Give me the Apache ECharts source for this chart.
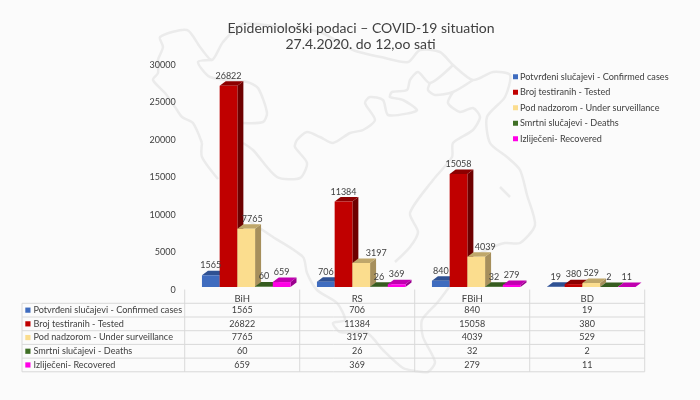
<!DOCTYPE html>
<html>
<head>
<meta charset="utf-8" />
<title>COVID-19 situation</title>
<style type="text/css">
  html, body {height: 100%; margin: 0; padding: 0; background: #fbfbfb;}
  #main {width: 700px; height: 400px;}
</style>
<script type="text/javascript" src="https://cdn.jsdelivr.net/npm/echarts@6/dist/echarts.min.js"></script>
</head>
<body>
<div id="main"></div>
<script type="text/javascript">
var categories = ['BiH', 'RS', 'FBiH', 'BD'];
var seriesNames = [
  'Potvrđeni slučajevi - Confirmed cases',
  'Broj testiranih - Tested',
  'Pod nadzorom - Under surveillance',
  'Smrtni slučajevi - Deaths',
  'Izliječeni- Recovered'
];
var confirmed = [1565, 706, 840, 19];
var tested = [26822, 11384, 15058, 380];
var surveillance = [7765, 3197, 4039, 529];
var deaths = [60, 26, 32, 2];
var recovered = [659, 369, 279, 11];
var seriesValues = [confirmed, tested, surveillance, deaths, recovered];

// front, top, side colour of each bar
var barColors = [
  ['#3f6cbf', '#2f5193', '#2c4c8a'],
  ['#c00000', '#8c0000', '#6e0000'],
  ['#fbdd8e', '#bfa76a', '#a68f5c'],
  ['#3f6f25', '#365c1f', '#2c4c1a'],
  ['#ff00e6', '#c000b0', '#9a008e']
];

var FONT = 'Lato';
var TEXT = '#404040';
var LINE = '#d9d9d9';
var GRID_LEFT = 184.7, GRID_TOP = 62, GRID_W = 460, GRID_H = 225;
var DX = 6, DY = 4.5;  // fake 3d depth
var TABLE_LEFT = 22, TABLE_TOP = 303.3, ROW_H = 13.7;
var labelShiftX = {2: [6, 15, 9, 0]};  // labels moved by hand in the original

// faint map of the country behind the chart
var backdrop = [
  [[202,143],[193,123],[182,117],[175,107],[165,93],[153,80],[158,73],[158,60],[163,47],[160,37],[187,30],[200,47],[212,60],[223,42],[243,24],[280,27],[320,32],[353,50],[385,58],[408,62],[420,50],[440,52],[453,65],[473,80],[493,72],[510,75],[505,97],[487,117],[490,143],[507,157],[520,170],[527,195],[535,225],[520,243],[505,243],[493,247],[478,255],[462,270],[447,290],[437,303],[422,320],[423,337],[435,362],[428,372],[415,371],[403,368],[383,350],[367,333],[340,332],[333,323],[345,320],[337,303],[317,290],[307,273],[303,257],[273,237],[243,217]],
  [[202,143],[202,157],[218,179]],
  [[212,60],[198,62],[210,77],[247,82],[258,88],[267,113],[263,122],[243,123]],
  [[453,65],[430,83],[418,72],[410,80],[407,90],[392,92],[390,97],[403,100],[417,110],[410,113],[388,115],[383,100],[370,97],[365,103],[375,120],[363,130],[350,133],[333,143],[320,137],[307,132],[297,140],[295,147],[307,163],[300,178],[277,177],[253,150],[243,143]],
  [[430,83],[428,90],[435,95],[453,92],[473,80]],
  [[453,92],[448,103],[460,112],[473,108],[480,117],[473,130],[453,143],[452,157],[433,180],[410,213],[418,232],[410,247],[395,262]],
  [[500,187],[510,197]]
];

function renderBar(seriesIndex) {
  return function (params, api) {
    var cat = api.value(0);
    var value = api.value(1);
    var band = api.size([1, 0])[0];
    var center = api.coord([cat, 0])[0];
    var w = band * 0.154;
    var x = center - band / 2 + band * 0.15 + seriesIndex * w;
    var y0 = api.coord([cat, 0])[1];
    var y1 = api.coord([cat, value])[1];
    var c = barColors[seriesIndex];
    var shift = labelShiftX[seriesIndex] ? labelShiftX[seriesIndex][cat] : 0;
    return {
      type: 'group',
      children: [{
        type: 'polygon',
        shape: {points: [[x + w, y0], [x + w + DX, y0 - DY], [x + w + DX, y1 - DY], [x + w, y1]]},
        style: {fill: c[2]}
      }, {
        type: 'polygon',
        shape: {points: [[x, y1], [x + DX, y1 - DY], [x + w + DX, y1 - DY], [x + w, y1]]},
        style: {fill: c[1]}
      }, {
        type: 'rect',
        shape: {x: x, y: y1, width: w, height: y0 - y1},
        style: {fill: c[0]}
      }, {
        type: 'text',
        style: {
          x: x + w / 2 + shift, y: y1 - 10,
          text: String(value), fill: TEXT, font: '9px ' + FONT,
          align: 'center', verticalAlign: 'middle'
        },
        z2: 10
      }]
    };
  };
}

var series = seriesNames.map(function (name, s) {
  return {
    name: name,
    type: 'custom',
    renderItem: renderBar(s),
    clip: false,
    encode: {x: 0, y: 1},
    itemStyle: {color: barColors[s][0]},
    data: seriesValues[s].map(function (v, i) { return [i, v]; })
  };
});

// backdrop and data table
var graphics = backdrop.map(function (pts) {
  return {
    type: 'polyline', silent: true, z: -10,
    shape: {points: pts, smooth: 0.25},
    style: {stroke: '#ebebeb', lineWidth: 2.5, fill: null}
  };
});
function tableLine(x1, y1, x2, y2) {
  graphics.push({
    type: 'line', silent: true, z: -5,
    shape: {x1: x1, y1: y1, x2: x2, y2: y2},
    style: {stroke: LINE, lineWidth: 1}
  });
}
function tableText(x, y, text, align, size) {
  graphics.push({
    type: 'text', silent: true,
    style: {x: x, y: y, text: text, fill: TEXT, font: size + 'px ' + FONT, align: align, verticalAlign: 'middle'}
  });
}
var bandW = GRID_W / categories.length;
seriesNames.forEach(function (name, r) {
  var midY = TABLE_TOP + ROW_H * (r + 0.5);
  tableLine(TABLE_LEFT, TABLE_TOP + ROW_H * r, GRID_LEFT + GRID_W, TABLE_TOP + ROW_H * r);
  graphics.push({
    type: 'rect', silent: true,
    shape: {x: TABLE_LEFT + 3.3, y: midY - 2.6, width: 5.2, height: 5.2},
    style: {fill: barColors[r][0]}
  });
  tableText(TABLE_LEFT + 11.5, midY, name, 'left', 9.1);
  categories.forEach(function (cat, c) {
    tableText(GRID_LEFT + bandW * (c + 0.5), midY, String(seriesValues[r][c]), 'center', 9);
  });
});
var tableBottom = TABLE_TOP + ROW_H * seriesNames.length;
tableLine(TABLE_LEFT, tableBottom, GRID_LEFT + GRID_W, tableBottom);
tableLine(TABLE_LEFT, TABLE_TOP, TABLE_LEFT, tableBottom);
for (var k = 0; k <= categories.length; k++) {
  tableLine(GRID_LEFT + bandW * k, 289.5, GRID_LEFT + bandW * k, tableBottom);
}

var titleStyle = {fontFamily: FONT, fontWeight: 'normal', color: TEXT, fontSize: 14};
var myChart = echarts.init(document.getElementById('main'), null, {renderer: 'canvas'});
myChart.setOption({
  animation: false,
  backgroundColor: '#fbfbfb',
  textStyle: {fontFamily: FONT},
  title: [{
    text: 'Epidemiološki podaci – COVID-19 situation',
    left: 356,
    top: 16,
    textAlign: 'center',
    textStyle: titleStyle
  }, {
    text: '27.4.2020. do 12,oo sati',
    left: 355.5,
    top: 32,
    textAlign: 'center',
    textStyle: titleStyle
  }],
  legend: {
    orient: 'vertical',
    left: 513,
    top: 71,
    padding: 0,
    icon: 'rect',
    itemWidth: 5,
    itemHeight: 5,
    itemGap: 4,
    textStyle: {fontFamily: FONT, fontSize: 9.1, color: TEXT, lineHeight: 11.5, padding: [0, 0, 0, -3]}
  },
  grid: {left: GRID_LEFT, top: GRID_TOP, width: GRID_W, height: GRID_H},
  xAxis: {
    type: 'category',
    data: categories,
    axisLine: {show: false},
    axisTick: {show: false},
    axisLabel: {color: TEXT, fontFamily: FONT, fontSize: 9.5, margin: 7}
  },
  yAxis: {
    type: 'value',
    min: 0,
    max: 30000,
    interval: 5000,
    splitLine: {show: false},
    axisLine: {show: false},
    axisTick: {show: false},
    axisLabel: {
      color: TEXT, fontFamily: FONT, fontSize: 9, margin: 9,
      verticalAlign: 'top', lineHeight: 6,
      formatter: function (v) { return String(v); }
    }
  },
  graphic: {elements: graphics},
  series: series
});
</script>
</body>
</html>
